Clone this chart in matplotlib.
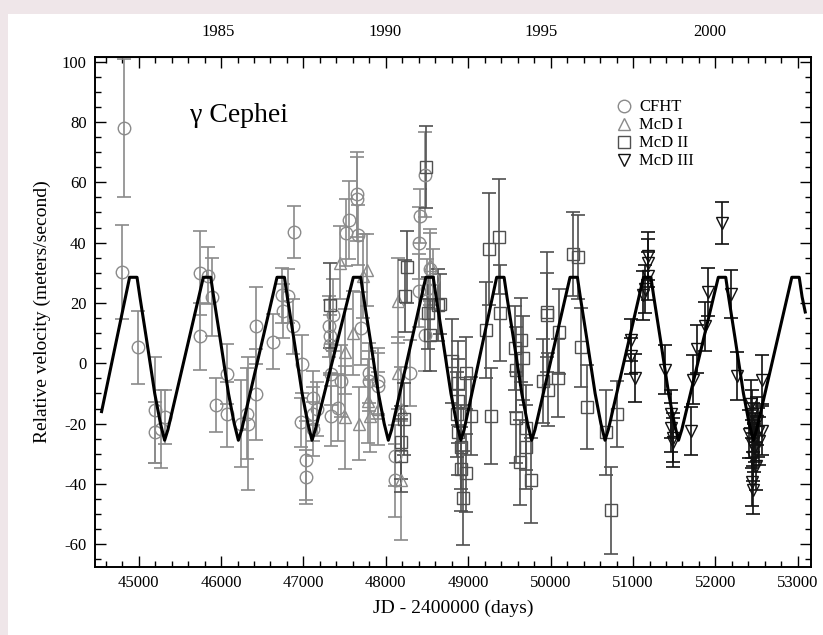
import matplotlib
matplotlib.use('Agg')
import matplotlib.pyplot as plt
from matplotlib.patches import Rectangle

plt.rcParams['font.family'] = 'Liberation Serif'
plt.rcParams['axes.unicode_minus'] = False

# orbit model curve (vertices)
model_jd = [44550,
            44890, 44980, 45015, 45095, 45195, 45265, 45315, 45355,
            45785, 45875, 45910, 45990, 46090, 46160, 46210, 46250,
            46679, 46769, 46804, 46884, 46984, 47054, 47104, 47144,
            47605, 47695, 47730, 47810, 47910, 47980, 48030, 48070,
            48485, 48575, 48610, 48690, 48790, 48860, 48910, 48950,
            49345, 49435, 49470, 49550, 49650, 49720, 49770, 49810,
            50235, 50325, 50360, 50440, 50540, 50610, 50660, 50700,
            51127, 51217, 51252, 51332, 51432, 51502, 51552, 51592,
            52035, 52125, 52160, 52240, 52340, 52410, 52460, 52500,
            52927, 53017, 53052, 53090]
model_rv = [-16] + [28.5, 28.5, 22, 8, -10, -20, -25.5, -22] * 9 + [28.5, 28.5, 22, 17]

cfht_jd = [44818, 44797, 44992, 45194, 45203, 45267, 45316, 45740, 45740, 45841,
           45890, 45935, 46076, 46076, 46238, 46319, 46327, 46420, 46420, 46630,
           46740, 46752, 46813, 46886, 46874, 46983, 46975, 47116, 47116, 47116,
           47036, 47036, 47170, 47310, 47320, 47320, 47340, 47340, 47360, 47420,
           47450, 47553, 47521, 47650, 47650, 47662, 47703, 47790, 47790, 47905,
           47905, 48108, 48108, 48290, 48411, 48403, 48403, 48472, 48533, 48500,
           48472, 48573]
cfht_rv = [78, 30.2, 5.3, -15.6, -22.9, -21.8, -17.8, 30, 8.9, 29,
           22, -13.9, -3.5, -16.9, -20, -16.7, -20, -10.3, 12.5, 7.2,
           22.5, 17.3, 22.3, 43.5, 12.2, -0.2, -19.6, -11.4, -16.9, -21.8,
           -32.2, -37.7, -15.2, 12.2, 8.9, 6.1, -3.7, -17.5, 16, -14.7,
           -5.9, 47.4, 43.3, 56, 54.5, 42.5, 11.6, -3.2, -5.9, -5.9,
           -7.6, -30.6, -38.8, -3.2, 48.8, 39.8, 24.1, 62.5, 31.2, 24.7,
           9.4, 28]
cfht_err = [23, 15.6, 12, 17.6, 10, 13, 8.8, 14, 11, 9.5,
            13, 9, 10, 10.7, 14.5, 15, 22, 15, 12.7, 9,
            9, 9, 9, 8.7, 9, 9.5, 8, 9, 9, 9,
            13, 9, 9, 10, 12, 10, 10, 10, 12, 11,
            12, 13, 11, 14, 14, 10, 12, 10, 10, 11,
            11, 10, 12, 11, 9, 12, 12, 14, 12, 10,
            12, 10]

mcd1_jd = [47440, 47500, 47501, 47600, 47680, 47717, 47777, 47784, 47804, 47900,
           48148, 48148, 48189, 48189, 48533]
mcd1_rv = [33.4, 3.9, -17.9, 10, -20, 29, 31, -12.5, -17.4, -15,
           20.8, -3.2, -15.2, -38.8, 32.6]
mcd1_err = [12, 14, 17, 14, 12, 14, 12, 14, 12, 12,
            14, 12, 14, 19.7, 12]

mcd2_jd = [47318, 48229, 48257, 48189, 48189, 48220, 48484, 48512, 48633, 48654,
           48540, 48808, 48876, 48880, 48860, 48876, 48917, 48917, 48970, 48938,
           48978, 49038, 49212, 49254, 49281, 49375, 49391, 49565, 49577, 49585,
           49625, 49645, 49665, 49706, 49706, 49767, 49908, 49950, 49956, 49969,
           50090, 50103, 50272, 50333, 50374, 50447, 50677, 50738, 50806]
mcd2_rv = [19.2, 22.3, 32, -26.2, -30.6, -18.5, 65, 16.6, 19.3, 19.7,
           9.4, 0.7, -6.5, -12.5, -16.9, -22.9, -27.8, -35, -36.4, -44.5,
           -3.2, -17.4, 11.1, 37.8, -17.4, 42, 16.6, 5, -2.1, -18,
           -32.8, 7.8, 1.7, -27.8, -21.3, -38.8, -5.9, 17, 16, -8.7,
           -4.8, 10.5, 36.2, 35.3, 5.3, -14.5, -22.9, -48.7, -16.9]
mcd2_err = [14, 12, 12, 12, 12, 12, 13.7, 12, 12, 10,
            12, 14, 14, 14, 14, 14, 14, 14, 13, 15.6,
            12, 13, 16, 18.6, 16, 19, 16, 14, 14, 15,
            14, 14, 14, 14, 14, 14, 14, 20, 14, 12,
            13, 14, 14, 14, 13, 14, 14, 14.5, 11]

mcd3_jd = [50981, 50981, 51029, 51122, 51146, 51183, 51183, 51183, 51385, 51466,
           51466, 51480, 51490, 51709, 51728, 51771, 51872, 51904, 52074, 52183,
           52256, 52560, 52430, 52440, 52450, 52480, 52440, 52520, 52530, 52460,
           52440, 52450, 52500, 52410, 52560, 52470, 52490]
mcd3_rv = [7.8, 2.3, -4.8, 22.5, 24.7, 35.6, 33.2, 29, -2.1, -16.9,
           -21.3, -24.6, -26.2, -22.4, -5.4, 4.8, 12.2, 23.6, 46.6, 23,
           -4.3, -5.4, -13.6, -16.9, -21.3, -24.6, -26.7, -22.9, -25.7, -31.1,
           -39.4, -42.1, -19.1, -23.5, -22.3, -28, -34]
mcd3_err = [7, 6, 8, 8, 8, 8, 8, 8, 8, 8,
            8, 8, 8, 8, 8, 8, 8, 8, 7, 8,
            8, 8, 8, 8, 8, 8, 8, 8, 8, 8,
            8, 8, 8, 8, 8, 8, 8]

year_labels = ['1985', '1990', '1995', '2000']
year_jd = [45960, 47985, 49880, 51930]

fig = plt.figure(figsize=(8.23, 6.35), dpi=100, facecolor='#efe6e9')
fig.patches.append(Rectangle((8 / 823, 0), 1, 621 / 635, transform=fig.transFigure,
                             facecolor='white', edgecolor='none', zorder=-10))
ax = fig.add_axes([95 / 823, 68 / 635, 716 / 823, 510 / 635])
ax.set_facecolor('white')

sets = [
    ('CFHT', cfht_jd, cfht_rv, cfht_err, 'o', '#8a8a8a', 9),
    ('McD I', mcd1_jd, mcd1_rv, mcd1_err, '^', '#8a8a8a', 9),
    ('McD II', mcd2_jd, mcd2_rv, mcd2_err, 's', '#505050', 9),
    ('McD III', mcd3_jd, mcd3_rv, mcd3_err, 'v', '#111111', 9),
]
for name, x, y, e, m, c, ms in sets:
    ax.errorbar(x, y, yerr=e, fmt='none', ecolor=c, elinewidth=1.2, capsize=5,
                capthick=1.2, zorder=2)
    ax.plot(x, y, ls='none', marker=m, ms=ms, mfc='none', mec=c, mew=1.0,
            label=name, zorder=3)

ax.plot(model_jd, model_rv, color='black', lw=2.2, zorder=4)

ax.set_xlim(44470, 53160)
ax.set_ylim(-67.5, 101.5)
ax.set_xticks(range(45000, 53001, 1000))
ax.set_xticks(range(44600, 53160, 200), minor=True)
ax.set_yticks(range(-60, 101, 20))
ax.set_yticks(range(-65, 101, 5), minor=True)
ax.tick_params(which='both', direction='in', top=True, right=True, labelsize=12,
               width=1.0)
ax.tick_params(which='major', length=8, pad=6)
ax.tick_params(which='minor', length=4)
for s in ax.spines.values():
    s.set_linewidth(1.4)

secax = ax.secondary_xaxis('top')
secax.set_xticks(year_jd, labels=year_labels)
secax.tick_params(length=0, pad=12, labelsize=12)

ax.set_xlabel('JD - 2400000 (days)', fontsize=14, labelpad=6)
ax.set_ylabel('Relative velocity (meters/second)', fontsize=14, labelpad=8)

ax.text(45620, 82, '\u03b3 Cephei', fontsize=20, va='center', ha='left')

ax.legend(loc='upper left', bbox_to_anchor=(0.718, 0.93), frameon=False,
          fontsize=12, handletextpad=0.4, labelspacing=0.12, handlelength=1.0,
          borderaxespad=0)

fig.savefig('out.png', dpi=100, facecolor=fig.get_facecolor())
